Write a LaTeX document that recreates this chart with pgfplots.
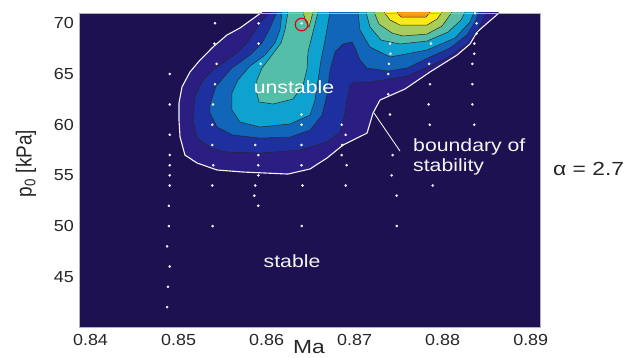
\documentclass[border=0pt]{standalone}
\usepackage{pgfplots}
\pgfplotsset{compat=1.18}
\usepackage{graphicx}
\usepackage{fontspec}
\setmainfont{Liberation Sans}
\definecolor{c0}{RGB}{29,17,82}
\definecolor{c1}{RGB}{43,29,130}
\definecolor{c2}{RGB}{30,48,160}
\definecolor{c3}{RGB}{18,102,185}
\definecolor{c4}{RGB}{14,162,208}
\definecolor{c5}{RGB}{85,190,168}
\definecolor{c6}{RGB}{168,205,90}
\definecolor{c7}{RGB}{250,235,20}
\definecolor{c8}{RGB}{250,150,20}
\newcommand\sx[1]{\scalebox{1.2}[1]{#1}}
\newcommand\tx[1]{\scalebox{1.12}[1]{#1}}
\begin{document}
\begin{tikzpicture}
\useasboundingbox (0,0) rectangle (628pt,358pt);
\begin{axis}[
  at={(79pt,31pt)}, anchor=south west,
  scale only axis, width=461.7pt, height=314pt,
  xmin=0.838694, xmax=0.891133, ymin=40.04, ymax=71.02,
  axis background/.style={fill=c0},
  axis line style={draw=gray!60, line width=0.8pt},
  axis on top,
  major tick length=0pt,
  xtick={0.84,0.85,0.86,0.87,0.88,0.89},
  xticklabels={\tx{0.84},\tx{0.85},\tx{0.86},\tx{0.87},\tx{0.88},\tx{0.89}},
  ytick={45,50,55,60,65,70},
  yticklabels={\tx{45},\tx{50},\tx{55},\tx{60},\tx{65},\tx{70}},
  ticklabel style={font=\fontsize{16}{18}\selectfont, text=black!85},
  xticklabel style={anchor=base, inner sep=0pt, yshift=-18.7pt},
  yticklabel style={anchor=east, inner sep=0pt, xshift=-5pt},
]
% level 1 (inside boundary of stability)
\addplot[fill=c1, draw=white!92!gray, line width=1.1pt] coordinates {
(0.85948,71.1) (0.85698,69.54) (0.85550,68.85) (0.85391,67.66) (0.85244,66.38) (0.85130,65.20) (0.85039,63.72) (0.85005,62.14) (0.85005,60.46) (0.85017,58.78) (0.85073,57.00) (0.85210,56.22) (0.85437,55.53) (0.85732,55.33) (0.86243,55.13) (0.86493,55.63) (0.86686,56.71) (0.86868,57.99) (0.87141,59.17) (0.87209,61.15) (0.87288,62.43) (0.87572,63.52) (0.87856,65.20) (0.88163,66.87) (0.88310,67.96) (0.88390,69.14) (0.88481,69.83) (0.88651,71.1)};
% level 2
\addplot[fill=c2, draw=black!85, line width=0.5pt] coordinates {
(0.86039,71.1) (0.85925,70.03) (0.85778,68.06) (0.85664,67.07) (0.85550,66.38) (0.85391,65.39) (0.85278,64.41) (0.85187,62.73) (0.85164,60.46) (0.85210,58.78) (0.85357,57.70) (0.85550,57.30) (0.85925,57.20) (0.86380,57.50) (0.86686,58.29) (0.86834,59.28) (0.86891,61.15) (0.86913,62.43) (0.86947,63.91) (0.87004,64.21) (0.87175,64.21) (0.87379,64.50) (0.87595,64.80) (0.87856,65.79) (0.88083,66.77) (0.88276,67.96) (0.88390,69.24) (0.88503,71.1)};
% level 3
\addplot[fill=c3, draw=black!85, line width=0.5pt] coordinates {
(0.86118,71.1) (0.86039,69.54) (0.85948,68.06) (0.85812,66.87) (0.85607,65.59) (0.85426,63.81) (0.85357,61.94) (0.85357,61.15) (0.85437,59.77) (0.85618,58.98) (0.85925,58.68) (0.86266,58.78) (0.86493,59.47) (0.86630,60.95) (0.86686,62.93) (0.86720,65.39) (0.86777,67.17) (0.86868,67.96) (0.86970,68.16) (0.87016,67.37) (0.87061,66.38) (0.87141,65.59) (0.87379,65.29) (0.87595,65.59) (0.87856,66.68) (0.88083,67.56) (0.88276,68.85) (0.88367,70.13) (0.88413,71.1)};
% level 4
\addplot[fill=c4, draw=black!85, line width=0.5pt] coordinates {
(0.86175,71.1) (0.86152,69.34) (0.86096,68.06) (0.85982,66.87) (0.85812,65.79) (0.85675,64.41) (0.85607,63.12) (0.85607,61.45) (0.85698,60.26) (0.85925,59.77) (0.86266,60.07) (0.86493,60.95) (0.86550,62.43) (0.86584,64.41) (0.86618,66.38) (0.86664,68.35) (0.86720,71.1)};
\addplot[fill=c4, draw=black!85, line width=0.5pt] coordinates {
(0.87038,71.1) (0.87061,69.34) (0.87175,67.66) (0.87402,66.68) (0.87822,67.37) (0.88140,68.55) (0.88310,70.13) (0.88356,71.1)};
% level 5
\addplot[fill=c5, draw=black!85, line width=0.5pt] coordinates {
(0.86243,71.1) (0.86209,69.34) (0.86164,68.06) (0.86061,66.87) (0.85948,65.59) (0.85891,64.41) (0.85880,63.42) (0.85914,62.24) (0.86073,62.04) (0.86300,62.53) (0.86414,63.91) (0.86459,65.49) (0.86470,67.17) (0.86527,69.14) (0.86584,71.1)};
\addplot[fill=c5, draw=black!85, line width=0.5pt] coordinates {
(0.87129,71.1) (0.87175,69.64) (0.87300,68.35) (0.87515,67.96) (0.87822,68.25) (0.88061,69.14) (0.88208,70.33) (0.88254,71.1)};
% level 6
\addplot[fill=c6, draw=black!85, line width=0.5pt] coordinates {
(0.86414,71.1) (0.86448,70.13) (0.86482,69.64) (0.86504,70.33) (0.86527,71.1)};
\addplot[fill=c6, draw=black!85, line width=0.5pt] coordinates {
(0.87220,71.1) (0.87277,69.93) (0.87425,69.04) (0.87549,68.75) (0.87822,68.94) (0.87993,69.73) (0.88106,71.1)};
% level 7
\addplot[fill=c7, draw=black!85, line width=0.5pt] coordinates {
(0.87334,71.1) (0.87402,70.33) (0.87515,69.83) (0.87822,69.83) (0.87936,70.42) (0.87993,71.1)};
% level 8
\addplot[fill=c8, draw=black!85, line width=0.5pt] coordinates {
(0.87481,71.1) (0.87527,70.62) (0.87810,70.62) (0.87856,71.1)};
% measurement points
\addplot[only marks, mark=*, mark size=1.1pt, color=white!90!gray] coordinates {
(0.8490,65) (0.8490,62) (0.8490,59) (0.8490,57) (0.8490,56) (0.8490,55) (0.8490,54) (0.8489,52) (0.8489,50) (0.8487,48) (0.8490,46) (0.8488,44) (0.8487,42)
(0.85414,70) (0.85406,68) (0.85433,66) (0.85414,64) (0.85391,62) (0.85383,60) (0.85383,58) (0.85395,56) (0.85383,54) (0.85387,50)
(0.85910,70) (0.85910,68) (0.85933,66) (0.85872,58) (0.85906,57) (0.85906,56) (0.85906,55) (0.85872,54) (0.85860,53) (0.85906,52)
(0.86397,70) (0.86397,61) (0.86397,60) (0.86397,58) (0.86397,56) (0.86408,54) (0.86399,50)
(0.86853,60) (0.86898,59) (0.86860,58) (0.86853,57) (0.86909,56) (0.86898,54)
(0.87402,68) (0.87407,67) (0.87390,66) (0.87382,65) (0.87382,63) (0.87402,61) (0.87432,57) (0.87421,55) (0.87478,53) (0.87478,50)
(0.87867,68) (0.87847,66) (0.87856,64) (0.87841,62) (0.87853,60) (0.87887,54)
(0.88367,71) (0.88386,70) (0.88386,69) (0.88359,68) (0.88359,67) (0.88337,66) (0.88337,64) (0.88337,62) (0.88359,60)};
\addplot[only marks, mark=o, mark size=6.3pt, draw=red!90!black, mark options={line width=1.1pt}] coordinates {(0.86397,69.88)};
% annotations
\draw[white!88!gray, line width=0.9pt] (axis cs:0.87220,61.15) -- (axis cs:0.87515,57.40);
\node[text=white, inner sep=0pt] at (axis cs:0.86311,63.75) {\fontsize{17.7}{20}\selectfont\sx{unstable}};
\node[text=white!92!gray, inner sep=0pt] at (axis cs:0.86289,46.50) {\fontsize{17.7}{20}\selectfont\sx{stable}};
\node[text=white!92!gray, inner sep=0pt, anchor=base west] at (axis cs:0.87663,57.40) {\fontsize{17.7}{20}\selectfont\sx{boundary of}};
\node[text=white!92!gray, inner sep=0pt, anchor=base west] at (axis cs:0.87663,55.43) {\fontsize{17.7}{20}\selectfont\sx{stability}};
\end{axis}
\node[anchor=base, inner sep=0pt, text=black!85] at (309pt,4pt) {\fontsize{19}{22}\selectfont\sx{Ma}};
\node[rotate=90, inner sep=0pt, text=black!85] at (26pt,194.5pt) {\fontsize{19}{22}\selectfont\scalebox{1}[1.15]{p\textsubscript{0} [kPa]}};
\node[anchor=west, inner sep=0pt, text=black!85] at (553pt,189pt) {\fontsize{19}{22}\selectfont\sx{α = 2.7}};
\end{tikzpicture}
\end{document}
